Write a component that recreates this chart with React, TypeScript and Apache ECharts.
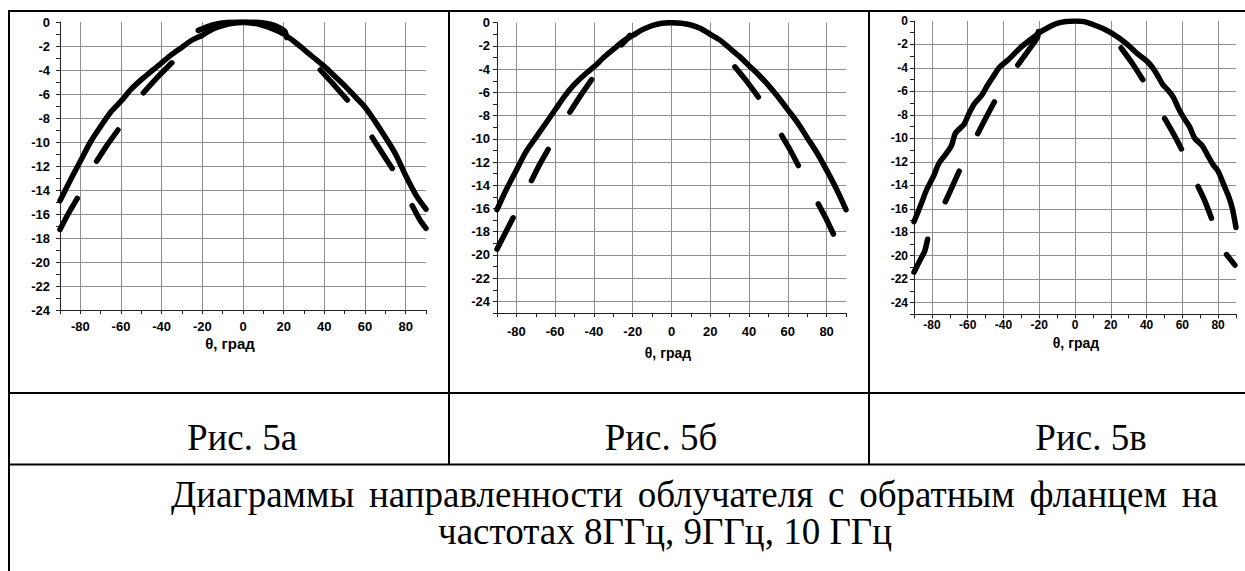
import React, { useEffect, useRef } from 'react';
import * as echarts from 'echarts';

// ---------- Data (θ in degrees, level in dB) ----------
// Рис. 5а — 8 ГГц
const solidA: [number, number][] = [
  [-90, -14.9], [-85, -13.2], [-80, -11.6], [-75, -10.0], [-70, -8.7], [-65, -7.5], [-60, -6.6],
  [-55, -5.6], [-50, -4.8], [-45, -4.1], [-40, -3.4], [-35, -2.7], [-30, -2.1], [-25, -1.5],
  [-20, -1.1], [-15, -0.6], [-10, -0.3], [-5, -0.1], [0, -0.05], [5, -0.1], [10, -0.3], [15, -0.6],
  [20, -1.0], [25, -1.6], [30, -2.3], [35, -3.0], [40, -3.7], [45, -4.5], [50, -5.3], [55, -6.2],
  [60, -7.1], [65, -8.3], [70, -9.6], [75, -11.0], [80, -12.8], [85, -14.4], [90, -15.6],
];
const dashesA: [number, number][][] = [
  [[-90, -17.3], [-86, -16.0], [-81.5, -14.7]],
  [[-72, -11.6], [-67, -10.3], [-61.5, -9.0]],
  [[-49, -5.9], [-42, -4.6], [-35, -3.4]],
  [[-22, -0.7], [-15, -0.25], [-7, -0.02], [0, 0], [7, -0.02], [15, -0.25], [20.5, -0.75], [21.5, -1.3]],
  [[38, -4.0], [44, -5.1], [51.3, -6.5]],
  [[63.5, -9.6], [68, -10.8], [73.4, -12.2]],
  [[83.2, -15.3], [87, -16.5], [90, -17.2]],
];

// Рис. 5б — 9 ГГц
const solidB: [number, number][] = [
  [-90, -16.1], [-85, -14.3], [-80, -12.7], [-75, -11.1], [-70, -9.9], [-65, -8.7], [-60, -7.5],
  [-55, -6.3], [-50, -5.3], [-45, -4.5], [-40, -3.8], [-35, -3.0], [-30, -2.3], [-25, -1.6],
  [-20, -1.1], [-15, -0.6], [-10, -0.25], [-5, -0.05], [0, 0], [5, -0.05], [10, -0.2], [15, -0.5],
  [20, -1.0], [25, -1.5], [30, -2.2], [35, -2.9], [40, -3.7], [45, -4.5], [50, -5.4], [55, -6.4],
  [60, -7.5], [65, -8.6], [70, -9.9], [75, -11.2], [80, -12.7], [85, -14.3], [90, -16.1],
];
const dashesB: [number, number][][] = [
  [[-90, -19.5], [-86, -18.2], [-81.7, -16.8]],
  [[-72.2, -13.6], [-68, -12.2], [-63.6, -10.9]],
  [[-52.4, -7.7], [-47, -6.3], [-41.2, -4.9]],
  [[-25.8, -1.9], [-23.5, -1.5], [-21.5, -1.1]],
  [[32.7, -3.8], [39, -5.1], [44.8, -6.4]],
  [[56.8, -9.7], [61, -10.9], [65.4, -12.3]],
  [[75.7, -15.6], [79.5, -16.8], [83.5, -18.2]],
];

// Рис. 5в — 10 ГГц
const solidC: [number, number][] = [
  [-90, -17.1], [-86, -15.6], [-83, -14.4], [-79, -13.2], [-76, -12.1], [-72, -11.3], [-69, -10.6],
  [-67, -9.6], [-64, -9.1], [-62, -8.8], [-59, -7.8], [-56, -7.0], [-52, -6.3], [-49, -5.5],
  [-46, -4.8], [-42, -3.9], [-38, -3.4], [-34, -2.8], [-30, -2.2], [-25, -1.6], [-20, -1.0],
  [-15, -0.55], [-10, -0.2], [-5, -0.05], [0, 0], [5, -0.05], [10, -0.3], [15, -0.6], [20, -1.0],
  [25, -1.5], [30, -2.1], [35, -2.8], [40, -3.4], [43, -3.9], [46, -4.6], [49, -5.4], [52, -5.9],
  [55, -6.5], [58, -7.5], [61, -8.3], [64, -9.0], [67, -10.0], [71, -10.6], [74, -11.4],
  [77, -12.2], [80, -12.8], [83, -13.9], [86, -15.0], [88, -16.0], [90, -17.6],
];
const dashesC: [number, number][][] = [
  [[-90, -21.4], [-86, -20.2], [-84, -19.6], [-82.4, -18.6]],
  [[-72.5, -15.4], [-68, -13.9], [-64.7, -12.8]],
  [[-54.4, -9.6], [-50, -8.3], [-45.1, -6.9]],
  [[-32, -3.75], [-26, -2.5], [-21, -1.4], [-20.5, -0.9]],
  [[25.8, -2.3], [32, -3.6], [37.9, -5.0]],
  [[50.1, -8.3], [55, -9.6], [59.5, -10.9]],
  [[68.8, -14.1], [72.5, -15.3], [76.3, -16.8]],
  [[84.7, -19.9], [89.4, -20.8]],
];

const yMins = [-24, -25, -25];
const figLabels = ['Рис. 5а', 'Рис. 5б', 'Рис. 5в'];
const axisTitle = 'θ, град';
const captionLine1 = 'Диаграммы направленности облучателя с обратным фланцем на';
const captionLine2 = 'частотах 8ГГц, 9ГГц, 10 ГГц';

// ---------- Layout ----------
const layouts = [
  { left: 60, top: 22, width: 366, height: 288, font: 13, xMargin: 10, yMargin: 10, titleX: 230, titleY: 343, titleSize: 15 },
  { left: 497, top: 22.7, width: 349, height: 290.3, font: 13, xMargin: 12, yMargin: 7, titleX: 668, titleY: 353, titleSize: 14 },
  { left: 914, top: 21, width: 322, height: 293.4, font: 12, xMargin: 5, yMargin: 6, titleX: 1076, titleY: 343, titleSize: 14 },
];
const figX = [242, 661, 1091];
const CAPTION_SIZE = 37;
const line1Left = 171;
const line1Right = 1218;
const GRID_COLOR = '#8f8f8f';

const SANS = '"Liberation Sans", Arial, sans-serif';
const SERIF = '"Liberation Serif", "Times New Roman", serif';

function joinDashes(dashes: [number, number][][]) {
  const out: any[] = [];
  dashes.forEach((d, i) => {
    if (i > 0) out.push([(dashes[i - 1][dashes[i - 1].length - 1][0] + d[0][0]) / 2, '-']);
    d.forEach((p) => out.push(p));
  });
  return out;
}

// justified first line: spread the words between line1Left and line1Right
function justifiedWords(text: string, y: number) {
  const words = text.split(' ');
  const canvas = document.createElement('canvas');
  const ctx = canvas.getContext('2d')!;
  ctx.font = `${CAPTION_SIZE}px ${SERIF}`;
  const widths = words.map((w) => ctx.measureText(w).width);
  const total = widths.reduce((a, b) => a + b, 0);
  const gap = (line1Right - line1Left - total) / (words.length - 1);
  let x = line1Left;
  return words.map((w, i) => {
    const el = {
      type: 'text', x, y, silent: true,
      style: { text: w, fill: '#000', fontSize: CAPTION_SIZE, fontFamily: SERIF, align: 'left', verticalAlign: 'middle' },
    };
    x += widths[i] + gap;
    return el;
  });
}

export default function App() {
  const ref = useRef<HTMLDivElement>(null);
  useEffect(() => {
    if (!ref.current) return;
    const chart = echarts.init(ref.current, undefined, { renderer: 'svg' });
    const panels = [
      { solid: solidA, dashes: dashesA },
      { solid: solidB, dashes: dashesB },
      { solid: solidC, dashes: dashesC },
    ];
    const lineStyle = { color: '#000', width: 5.5, cap: 'round', join: 'round' };
    const frame = (x1: number, y1: number, x2: number, y2: number) => ({
      type: 'line', shape: { x1, y1, x2, y2 }, style: { stroke: '#000', lineWidth: 2 }, silent: true,
    });
    const option: any = {
      animation: false,
      backgroundColor: '#fff',
      grid: layouts.map((l) => ({ left: l.left, top: l.top, width: l.width, height: l.height })),
      xAxis: layouts.map((l, i) => ({
        type: 'value', gridIndex: i, min: -90, max: 90, interval: 10,
        axisLine: { show: true, onZero: false, lineStyle: { color: '#222', width: 1 } },
        axisTick: { show: true, length: 4, lineStyle: { color: '#222' } },
        axisLabel: {
          formatter: (v: number) => (v % 20 === 0 ? String(v) : ''),
          color: '#000', fontWeight: 'bold', fontSize: l.font, fontFamily: SANS, margin: l.xMargin,
        },
        splitLine: { show: true, lineStyle: { color: ['transparent', GRID_COLOR], width: 1 } },
      })),
      yAxis: layouts.map((l, i) => ({
        type: 'value', gridIndex: i, min: yMins[i], max: 0, interval: 1,
        axisLine: { show: true, onZero: false, lineStyle: { color: '#222', width: 1 } },
        axisTick: { show: true, length: 4, lineStyle: { color: '#222' } },
        axisLabel: {
          formatter: (v: number) => (v % 2 === 0 ? String(Math.abs(v) === 0 ? 0 : v) : ''),
          color: '#000', fontWeight: 'bold', fontSize: l.font, fontFamily: SANS, margin: l.yMargin,
        },
        splitLine: {
          show: true, showMaxLine: false,
          lineStyle: { color: yMins[i] % 2 === 0 ? [GRID_COLOR, 'transparent'] : ['transparent', GRID_COLOR], width: 1 },
        },
      })),
      series: panels.flatMap((p, i) => [
        {
          type: 'line', xAxisIndex: i, yAxisIndex: i, data: p.solid, showSymbol: false, smooth: 0.3,
          lineStyle, silent: true,
        },
        {
          type: 'line', xAxisIndex: i, yAxisIndex: i, data: joinDashes(p.dashes), showSymbol: false,
          connectNulls: false, smooth: 0.2, lineStyle, silent: true,
        },
      ]),
      graphic: [
        frame(8, 11, 1245, 11),
        frame(9, 10, 9, 571),
        frame(449, 10, 449, 464),
        frame(869, 10, 869, 464),
        frame(8, 393, 1245, 393),
        frame(8, 464.5, 1245, 464.5),
        ...layouts.map((l) => ({
          type: 'text', x: l.titleX, y: l.titleY, silent: true,
          style: { text: axisTitle, fill: '#000', fontSize: l.titleSize, fontWeight: 'bold', fontFamily: SANS, align: 'center', verticalAlign: 'middle' },
        })),
        ...figLabels.map((t, i) => ({
          type: 'text', x: figX[i], y: 437, silent: true,
          style: { text: t, fill: '#000', fontSize: CAPTION_SIZE, fontFamily: SERIF, align: 'center', verticalAlign: 'middle' },
        })),
        ...justifiedWords(captionLine1, 494),
        {
          type: 'text', x: 665, y: 531, silent: true,
          style: { text: captionLine2, fill: '#000', fontSize: CAPTION_SIZE, fontFamily: SERIF, align: 'center', verticalAlign: 'middle' },
        },
      ],
    };
    chart.setOption(option);
    return () => chart.dispose();
  }, []);
  return (
    <div
      ref={ref}
      style={{ position: 'absolute', left: 0, top: 0, width: 1245, height: 571, background: '#fff' }}
    />
  );
}
